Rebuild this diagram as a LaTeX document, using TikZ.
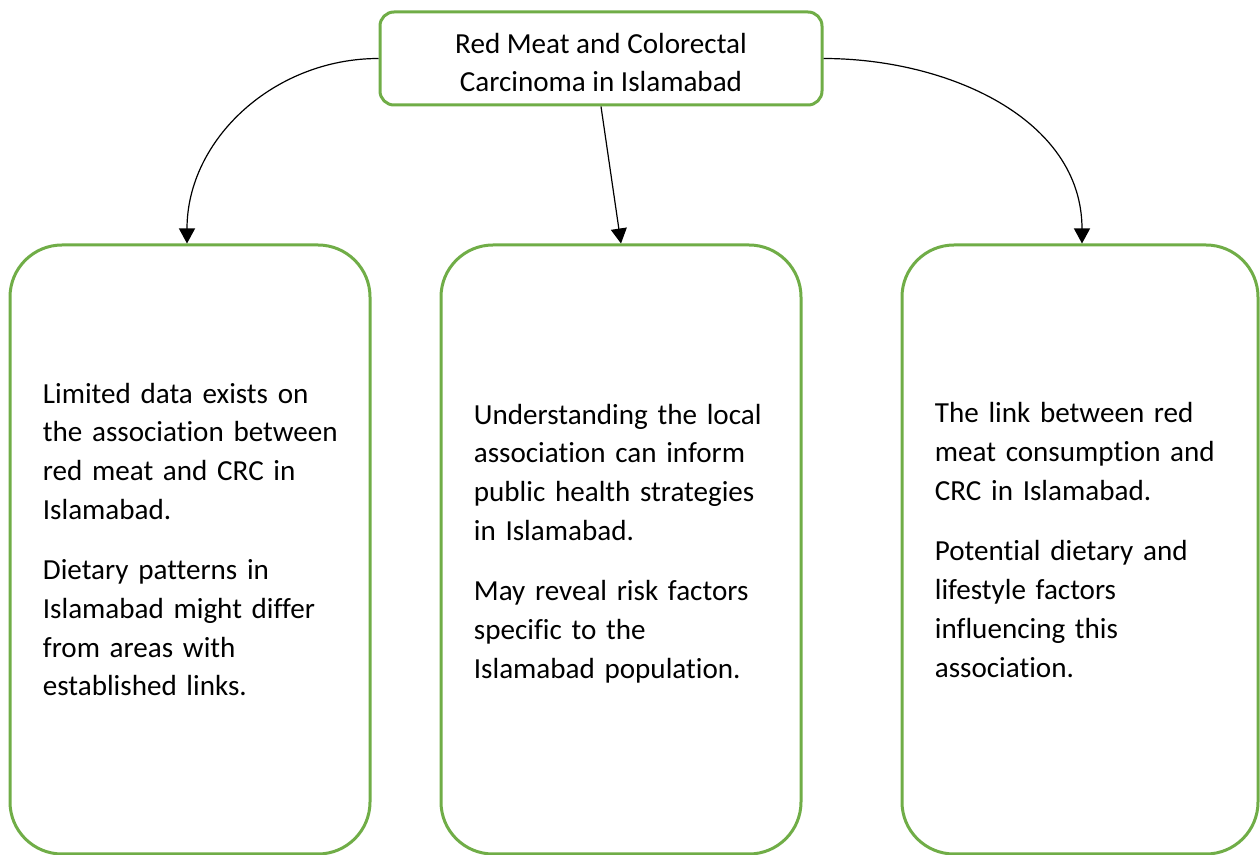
\documentclass[tikz,border=0pt]{standalone}
\usepackage{fontspec}
\setmainfont{Carlito}[Ligatures=CommonOff]
\usetikzlibrary{arrows.meta}
\definecolor{leafgreen}{HTML}{70AD47}

\begin{document}
\begin{tikzpicture}[x=0.5pt,y=0.5pt,>={Triangle[width=8pt,length=7.5pt]},
  every node/.style={font=\fontsize{14.55pt}{19.35pt}\selectfont},
  panel/.style={draw=leafgreen,line width=1.5pt,rounded corners=26pt,minimum width=180pt,minimum height=304.5pt,inner sep=0pt},
  txt/.style={align=left,text width=150pt,inner sep=0pt,anchor=west},
  link/.style={line width=0.6pt,->}]
  \useasboundingbox (0,0) rectangle (1260,-855);
  % title box
  \node[draw=leafgreen,line width=1.5pt,rounded corners=7pt,minimum width=221pt,minimum height=46.5pt] (T) at (601,-58.5) {};
  \node[align=center,inner sep=0pt] (Ttxt) at ([yshift=-2pt]T.center) {Red Meat and Colorectal\\Carcinoma in Islamabad};
  % the three panels
  \node[panel] (L) at (190,-549.5) {};
  \node[panel] (M) at (621,-549.5) {};
  \node[panel,minimum width=178pt] (R) at (1080,-549.5) {};
  \node[txt] (Ltxt) at ([xshift=17pt,yshift=5pt]L.west) {Limited data exists on\\the association between\\red meat and CRC in\\Islamabad.\\[11pt]Dietary patterns in\\Islamabad might differ\\from areas with\\established links.};
  \node[txt] (Mtxt) at ([xshift=17pt,yshift=3pt]M.west) {Understanding the local\\association can inform\\public health strategies\\in Islamabad.\\[11pt]May reveal risk factors\\specific to the\\Islamabad population.};
  \node[txt] (Rtxt) at ([xshift=17pt,yshift=4.75pt]R.west) {The link between red\\meat consumption and\\CRC in Islamabad.\\[11pt]Potential dietary and\\lifestyle factors\\influencing this\\association.};
  % connectors
  \draw[link] (T.west) to[out=180,in=90] ([xshift=-1.5pt]L.north);
  \draw[link] (T.south) -- (M.north);
  \draw[link] (T.east) to[out=0,in=90] ([xshift=1pt]R.north);
\end{tikzpicture}
\end{document}
